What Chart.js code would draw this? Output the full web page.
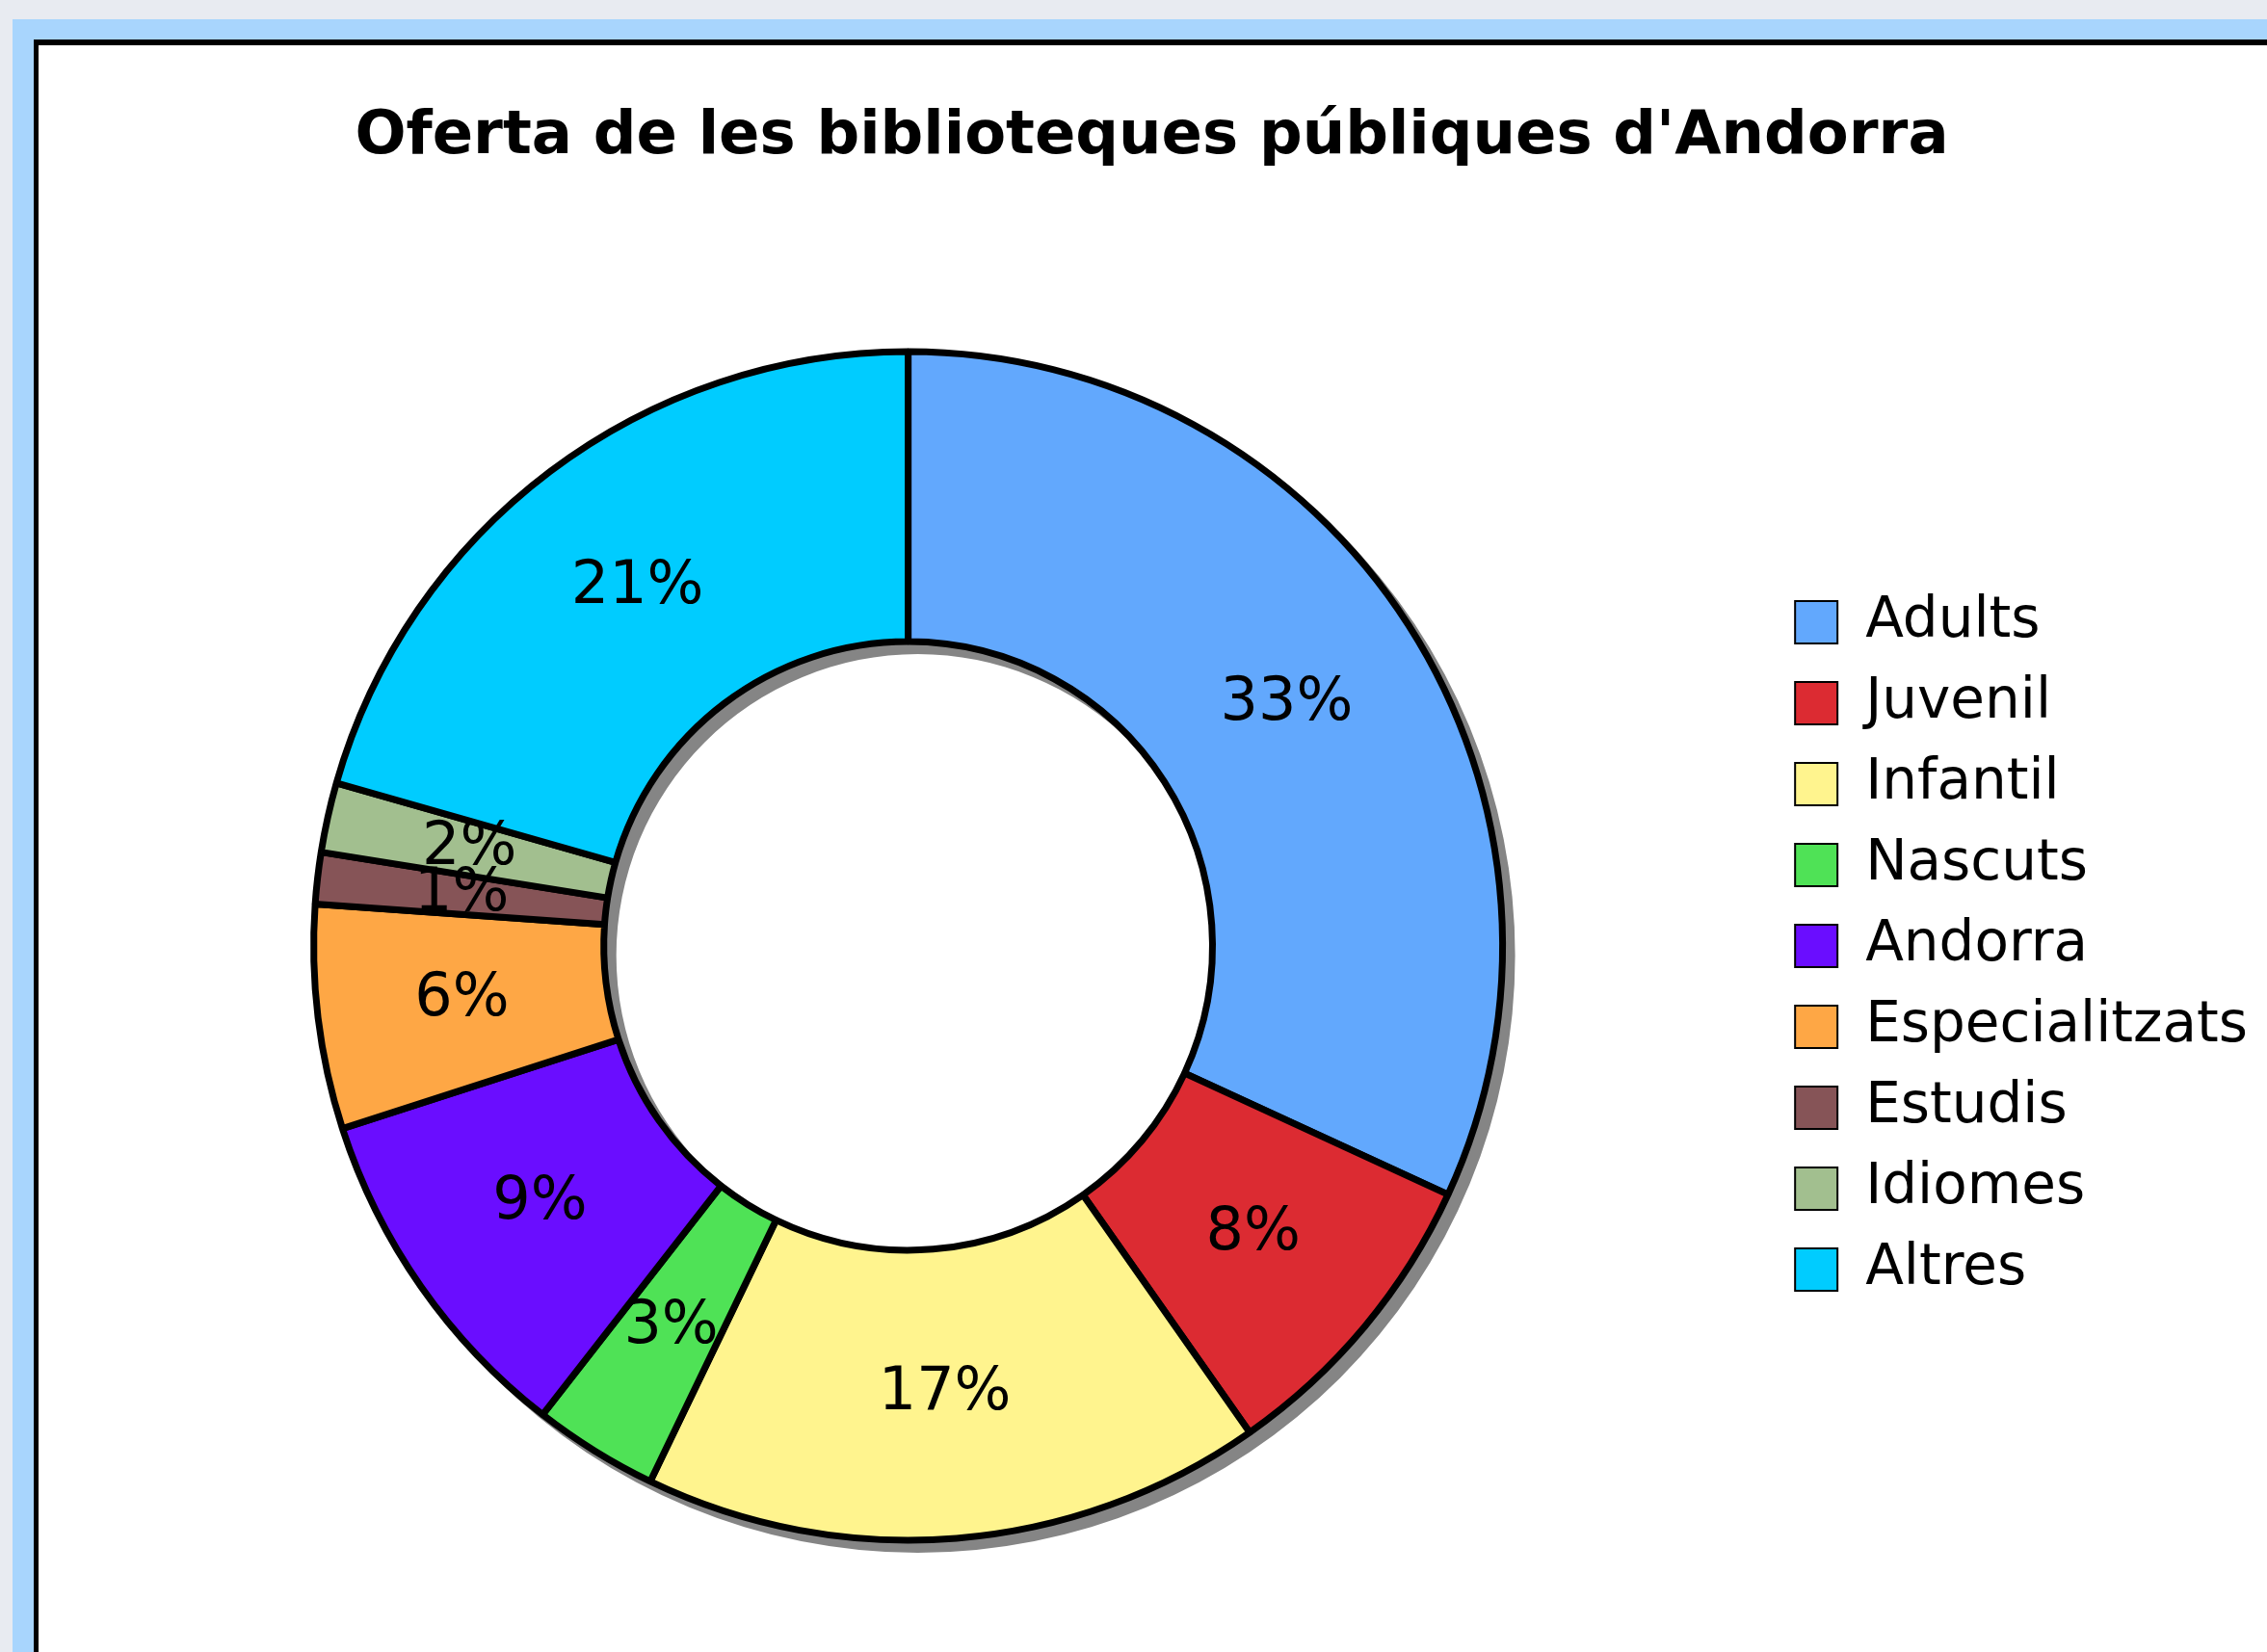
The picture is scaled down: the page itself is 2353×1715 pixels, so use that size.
<!DOCTYPE html>
<html>
<head>
<meta charset="utf-8">
<script src="https://cdn.jsdelivr.net/npm/chart.js@4/dist/chart.umd.min.js"></script>
<style>
    body { margin: 0; background: #e8ebf1; overflow: hidden; }
    #marc { position: absolute; left: 13px; top: 20px; width: 3000px; height: 3000px; background: #a8d5fd; }
    #panell { position: absolute; left: 35px; top: 41px; width: 3000px; height: 3000px; background: #fff;
              border-left: 5px solid #000; border-top: 6px solid #000; }
    #grafic { position: absolute; left: 0; top: 0; }
</style>
</head>
<body>
<div id="marc"></div>
<div id="panell"><canvas id="grafic" width="2320" height="1734"></canvas></div>
<script>
const titol = "Oferta de les biblioteques públiques d'Andorra";
const categories = ['Adults', 'Juvenil', 'Infantil', 'Nascuts', 'Andorra', 'Especialitzats', 'Estudis', 'Idiomes', 'Altres'];
const valors = [31.9, 8.4, 16.9, 3.4, 9.5, 6.1, 1.4, 1.9, 20.6];
const etiquetes = ['33%', '8%', '17%', '3%', '9%', '6%', '1%', '2%', '21%'];
const colors = ['#62a8fd', '#dc2b32', '#fff48e', '#4fe256', '#6a0dff', '#fea745', '#865457', '#a2bf8f', '#00ccff'];

const FONT = 'Verdana, "DejaVu Sans", sans-serif';

// ombra grisa sota l'anell
const ombra = {
    id: 'ombra',
    beforeDatasetsDraw(chart) {
        const arc = chart.getDatasetMeta(0).data[0];
        if (!arc) return;
        const { x, y, outerRadius, innerRadius } = arc.getProps(['x', 'y', 'outerRadius', 'innerRadius'], true);
        const ctx = chart.ctx;
        ctx.save();
        ctx.fillStyle = '#858585';
        ctx.beginPath();
        ctx.arc(x + 10, y + 10, outerRadius + 3, 0, Math.PI * 2);
        ctx.arc(x + 10, y + 10, innerRadius - 3, 0, Math.PI * 2, true);
        ctx.fill('evenodd');
        ctx.restore();
    }
};

// percentatges al mig de cada sector
const percentatges = {
    id: 'percentatges',
    afterDatasetsDraw(chart) {
        const ctx = chart.ctx;
        ctx.save();
        ctx.font = '62px ' + FONT;
        ctx.fillStyle = '#000';
        ctx.textAlign = 'center';
        ctx.textBaseline = 'middle';
        chart.getDatasetMeta(0).data.forEach((arc, i) => {
            const p = arc.tooltipPosition(true);
            ctx.fillText(etiquetes[i], p.x, p.y);
        });
        ctx.restore();
    }
};

new Chart(document.getElementById('grafic'), {
    type: 'doughnut',
    data: {
        labels: categories,
        datasets: [{
            data: valors,
            backgroundColor: colors,
            borderColor: '#000',
            borderWidth: 7,
            radius: 617,
            cutout: '51.2%'
        }]
    },
    options: {
        responsive: false,
        animation: false,
        layout: { padding: { left: 8, right: 17, top: 0, bottom: 0 } },
        plugins: {
            title: {
                display: true,
                text: titol,
                color: '#000',
                font: { family: FONT, size: 62.5, weight: 'bold' },
                padding: { top: 58, bottom: 3 }
            },
            legend: {
                position: 'right',
                fullSize: false,
                labels: {
                    color: '#000',
                    font: { family: FONT, size: 58 },
                    boxWidth: 44,
                    boxHeight: 44,
                    padding: 26,
                    generateLabels(chart) {
                        const items = Chart.overrides.doughnut.plugins.legend.labels.generateLabels(chart);
                        items.forEach(it => { it.lineWidth = 2; it.strokeStyle = '#000'; });
                        return items;
                    }
                }
            },
            tooltip: { enabled: false }
        }
    },
    plugins: [ombra, percentatges]
});
</script>
</body>
</html>
